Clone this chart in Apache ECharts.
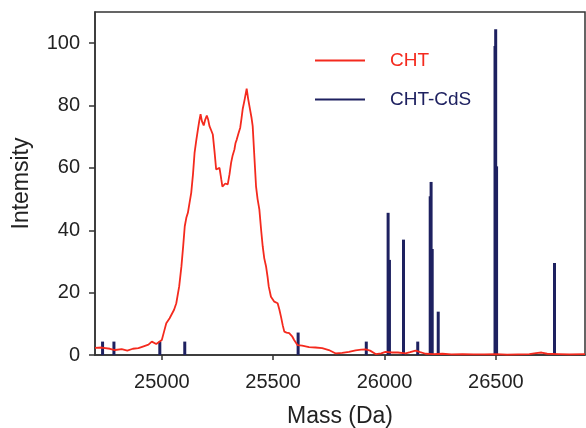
<!DOCTYPE html>
<html>
<head>
<meta charset="utf-8">
<script src="https://cdn.jsdelivr.net/npm/echarts@6/dist/echarts.min.js"></script>
<style>
html, body { margin: 0; padding: 0; background: #fff; }
#main { width: 586px; height: 428px; }
</style>
</head>
<body>
<div id="main"></div>
<script>
var myChart = echarts.init(document.getElementById('main'));

// CHT spectrum (red)
var chtMass = [24700, 24730, 24767, 24790, 24820, 24845, 24870, 24895, 24915, 24940, 24955, 24975,
	25000, 25010, 25020, 25035, 25043, 25055, 25065, 25078, 25088, 25096, 25103, 25110, 25117, 25125,
	25132, 25140, 25147, 25155, 25162, 25168, 25174, 25180, 25188, 25195, 25202, 25208, 25214, 25222,
	25229, 25237, 25244, 25252, 25259, 25267, 25272, 25277, 25285, 25296, 25304, 25311, 25318, 25326,
	25331, 25336, 25344, 25352, 25358, 25363, 25372, 25381, 25388, 25396, 25403, 25408, 25416, 25423,
	25430, 25438, 25446, 25453, 25460, 25468, 25475, 25480, 25490, 25505, 25520, 25528, 25535, 25543,
	25550, 25560, 25572, 25585, 25594, 25609, 25630, 25661, 25690, 25720, 25750, 25781, 25810, 25840,
	25870, 25895, 25915, 25935, 25960, 25985, 26004, 26034, 26060, 26094, 26115, 26139, 26160, 26184,
	26220, 26260, 26300, 26350, 26400, 26450, 26500, 26550, 26600, 26650, 26680, 26705, 26730, 26780,
	26830, 26900];
var chtInt = [2.3, 2.4, 2.0, 1.6, 1.9, 1.4, 2.0, 2.2, 2.7, 3.3, 4.3, 3.5,
	4.8, 7.5, 10.2, 11.8, 12.3, 14.5, 16.6, 22, 28.4, 35, 41.3, 44, 45.6, 49,
	52, 58, 64.8, 69, 72.3, 75, 77.2, 75, 73.6, 75.5, 76.8, 75.5, 73.4, 72,
	70.7, 65, 59.5, 59, 60, 56.3, 54, 53.6, 55, 54.7, 58, 61.6, 64, 65.9,
	68, 69, 71, 72.9, 76, 78.8, 82, 85.4, 82, 78.8, 76, 73.4, 63, 54.1,
	50, 46.6, 40, 34.8, 31, 28.4, 25, 22, 18.7, 17.1, 16.6, 14.5, 12.3, 9.5,
	7.5, 7.2, 7, 6, 4.8, 3.2, 3.0, 2.5, 2.4, 2.2, 1.6, 0.5, 0.7, 1,
	1.5, 1.7, 1.8, 1.4, 0.3, 0.5, 1, 0.8, 0.8, 0.5, 0.9, 1.4, 0.9, 0.4,
	0.3, 0.4, 0.2, 0.3, 0.2, 0.2, 0.3, 0.1, 0.2, 0.3, 0.6, 0.8, 0.4, 0.3,
	0.2, 0.3];

// CHT-CdS peaks (navy sticks)
var cdsMass = [24734, 24785, 24991, 25103, 25612, 25918, 26016, 26022, 26085, 26149,
	26205, 26209, 26214, 26241, 26496, 26499, 26503, 26763];
var cdsInt = [4.3, 4.3, 4.3, 4.3, 7.2, 4.3, 45.6, 30.5, 37, 4.3,
	50.9, 55.5, 34, 13.9, 99.1, 104.5, 60.5, 29.5];

var xTicks = [25000, 25500, 26000, 26500];
var yTicks = [0, 20, 40, 60, 80, 100];

var chtData = [];
for (var i = 0; i < chtMass.length; i++) {
	chtData.push([chtMass[i], chtInt[i]]);
}
var cdsData = [];
for (var j = 0; j < cdsMass.length; j++) {
	cdsData.push([cdsMass[j], cdsInt[j]]);
}

var font = 'Liberation Sans, Arial, sans-serif';

option = {
	animation: false,
	grid: {
		left: 95,
		right: 1,
		top: 12,
		bottom: 73,
		outerBoundsMode: 'none',
		containLabel: false,
		show: true,
		borderColor: '#333',
		borderWidth: 1.5
	},
	legend: {
		orient: 'vertical',
		left: 315,
		top: 51,
		padding: 0,
		itemWidth: 50,
		itemHeight: 2,
		itemGap: 20,
		icon: 'rect',
		textStyle: {
			fontFamily: font,
			fontSize: 19,
			padding: [0, 0, 0, 20]
		},
		data: [
			{ name: 'CHT', textStyle: { color: '#f42a1e' } },
			{ name: 'CHT-CdS', textStyle: { color: '#1e2160' } }
		]
	},
	xAxis: {
		type: 'value',
		min: 24700,
		max: 26900,
		name: 'Mass (Da)',
		nameLocation: 'middle',
		nameGap: 50,
		nameTextStyle: {
			fontFamily: font,
			fontSize: 23,
			color: '#222'
		},
		splitLine: { show: false },
		axisLine: {
			lineStyle: { color: '#333', width: 1.5 }
		},
		axisTick: {
			length: 5,
			customValues: xTicks,
			lineStyle: { color: '#333', width: 1.5 }
		},
		axisLabel: {
			customValues: xTicks,
			margin: 17,
			fontFamily: font,
			fontSize: 20,
			color: '#222',
			formatter: function (v) { return String(v); }
		}
	},
	yAxis: {
		type: 'value',
		min: 0,
		max: 110,
		name: 'Intemsity',
		nameLocation: 'middle',
		nameGap: 62,
		nameTextStyle: {
			fontFamily: font,
			fontSize: 23,
			color: '#222'
		},
		splitLine: { show: false },
		axisLine: {
			lineStyle: { color: '#333', width: 1.5 }
		},
		axisTick: {
			length: 6,
			customValues: yTicks,
			lineStyle: { color: '#333', width: 1.5 }
		},
		axisLabel: {
			customValues: yTicks,
			margin: 15,
			fontFamily: font,
			fontSize: 20,
			color: '#222'
		}
	},
	series: [{
		name: 'CHT-CdS',
		type: 'bar',
		barWidth: 3,
		itemStyle: { color: '#1e2160' },
		data: cdsData,
		z: 2
	}, {
		name: 'CHT',
		type: 'line',
		symbol: 'none',
		lineStyle: { color: '#f42a1e', width: 1.8 },
		itemStyle: { color: '#f42a1e' },
		data: chtData,
		z: 3
	}]
};

myChart.setOption(option);
window.onresize = myChart.resize;
</script>
</body>
</html>
